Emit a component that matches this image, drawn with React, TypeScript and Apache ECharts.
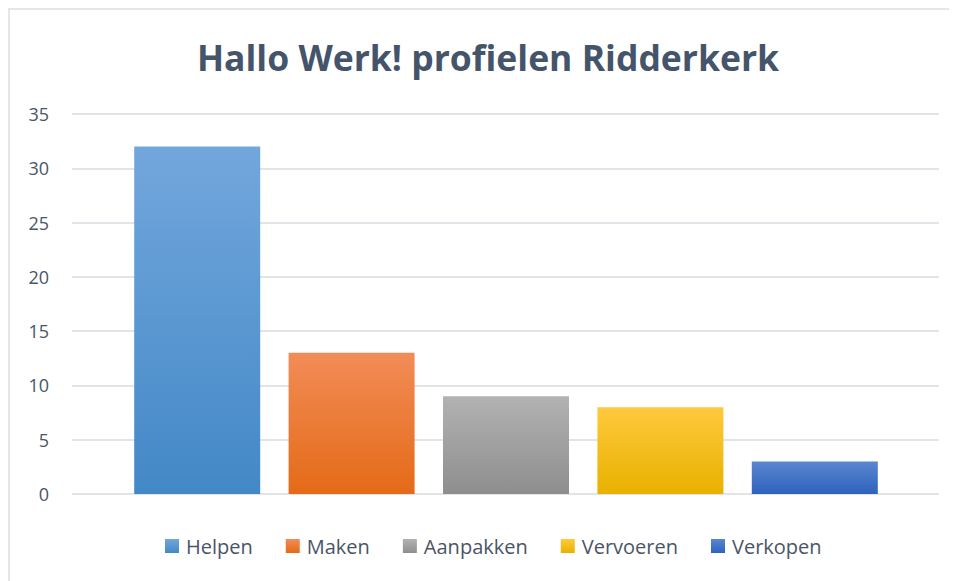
import React, { useEffect, useRef } from "react";
import * as echarts from "echarts";

const categories = ["Helpen", "Maken", "Aanpakken", "Vervoeren", "Verkopen"];
const values = [32, 13, 9, 8, 3];
const gradientTop = ["#72a7dc", "#f28c57", "#b2b2b2", "#ffc93d", "#5b86d0"];
const gradientBottom = ["#4388c7", "#e46a17", "#8e8e8e", "#e8b100", "#2e62be"];
const yMin = 0;
const yMax = 35;
const yInterval = 5;

const FONT = "'Open Sans', Lato, sans-serif";
const TEXT = "#4a5566";

export default function App() {
  const ref = useRef<HTMLDivElement>(null);
  useEffect(() => {
    if (!ref.current) return;
    const chart = echarts.init(ref.current, undefined, { renderer: "svg" });
    const series = categories.map((name, i) => ({
      name,
      type: "bar",
      stack: "all",
      xAxisIndex: 0,
      yAxisIndex: 0,
      barWidth: 126,
      data: categories.map((_, j) => (j === i ? values[i] : "-")),
      itemStyle: {
        color: new echarts.graphic.LinearGradient(0, 0, 0, 1, [
          { offset: 0, color: gradientTop[i] },
          { offset: 1, color: gradientBottom[i] },
        ]),
      },
    }));
    chart.setOption({
      animation: false,
      textStyle: { fontFamily: FONT },
      graphic: [
        {
          type: "text",
          x: 480,
          y: 49,
          style: {
            text: "Hallo Werk! profielen Ridderkerk",
            fontFamily: FONT,
            fontWeight: "bold",
            fontSize: 35.5,
            fill: "#44546a",
            textAlign: "center",
            textVerticalAlign: "middle",
          },
        },
      ],
      legend: {
        data: categories,
        left: 152,
        top: 521,
        itemWidth: 14,
        itemHeight: 14,
        itemGap: 33,
        icon: "rect",
        textStyle: {
          fontFamily: FONT,
          fontSize: 20,
          color: TEXT,
          lineHeight: 24,
          padding: [0, 0, 0, 2],
        },
      },
      grid: [
        { left: 112, right: 65, top: 106, bottom: 87 },
        { left: 64, right: 18, top: 106, bottom: 87 },
      ],
      xAxis: [
        {
          type: "category",
          gridIndex: 0,
          data: categories,
          axisLine: { show: false },
          axisTick: { show: false },
          axisLabel: { show: false },
        },
        {
          type: "value",
          gridIndex: 1,
          show: false,
        },
      ],
      yAxis: [
        {
          type: "value",
          gridIndex: 0,
          min: yMin,
          max: yMax,
          interval: yInterval,
          axisLine: { show: false },
          axisTick: { show: false },
          axisLabel: { show: false },
          splitLine: { show: false },
        },
        {
          type: "value",
          gridIndex: 1,
          min: yMin,
          max: yMax,
          interval: yInterval,
          axisLine: { show: false },
          axisTick: { show: false },
          axisLabel: {
            fontFamily: FONT,
            fontSize: 18,
            color: TEXT,
            margin: 23,
          },
          splitLine: { lineStyle: { color: "#e1e5ea", width: 2 } },
        },
      ],
      series,
    });
    return () => chart.dispose();
  }, []);
  return (
    <div style={{ position: "relative", width: 949, height: 573 }}>
      <div ref={ref} style={{ position: "absolute", left: 0, top: 0, width: 949, height: 573 }} />
      <div
        style={{
          position: "absolute",
          left: 0,
          top: 0,
          width: 949,
          height: 573,
          borderTop: "2px solid #e3e7ec",
          borderLeft: "2px solid #e3e7ec",
          boxSizing: "border-box",
          pointerEvents: "none",
        }}
      />
    </div>
  );
}
